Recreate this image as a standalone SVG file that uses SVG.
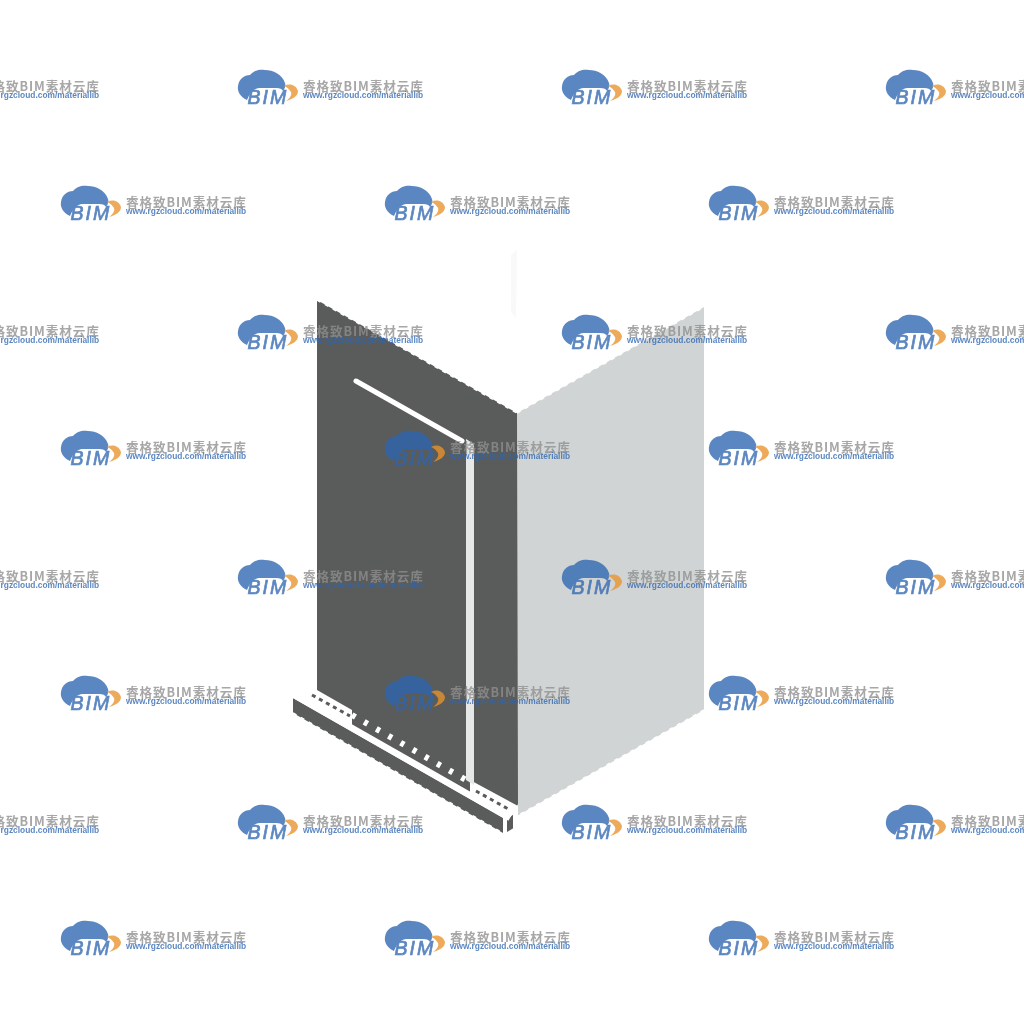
<svg xmlns="http://www.w3.org/2000/svg" width="1024" height="1024" viewBox="0 0 1024 1024">
<style>
.cn{font-family:"Noto Sans CJK SC","Liberation Sans",sans-serif;font-size:12.6px;font-weight:700;fill:#8f8f8f;letter-spacing:.9px}
.url{font-family:"Liberation Sans",sans-serif;font-size:8.4px;font-weight:700;fill:#2f66b0}
.bim{font-family:"Liberation Sans",sans-serif;font-size:19.5px;font-style:italic;font-weight:400;fill:#2f66b0;stroke:#2f66b0;stroke-width:.7;letter-spacing:2px}
</style>
<defs>
<filter id="b1" x="-5%" y="-5%" width="110%" height="110%"><feGaussianBlur stdDeviation="0.7"/></filter>
<filter id="b2" x="0" y="0" width="100%" height="100%"><feGaussianBlur stdDeviation="0.4"/></filter>
<g id="wm" opacity=".78">
<path fill="#2f66b0" d="M9 30C2 27 -1 21 0 16C1 9 6 5 12 5C16 0 22 -1 27 0C35 0 44 4 47 13C48 16 47 18 45 21C44 19 42 18 38 18L21 18C15 19 12 23 9 30Z"/>
<path fill="#e8932e" d="M46 16C52 13 58 15 60 21C60 26 55 29 48 31C52 28 54 25 53 22C51 19 49 17 46 16Z"/>
<text class="bim" x="9.5" y="34">BIM</text>
<text class="cn" x="65" y="20.5">睿格致BIM素材云库</text>
<text class="url" x="65" y="28.3">www.rgzcloud.com/materiallib</text>
</g>
</defs>
<rect width="1024" height="1024" fill="#fff"/>
<g id="building" filter="url(#b1)">
<path fill="#f9f9f9" d="M511 255L517 250L516 318L511 312Z"/>
<path fill="#d1d4d4" d="M517 413L704 307L704 710L517 816Z"/>
<path fill="#5a5c5b" d="M317 300L517 413L518 804L510 816L352 726L352 712L317 692Z"/>
<path fill="#5a5c5b" d="M293 698L503 818L503 833L293 713Z"/>
<path fill="#5a5c5b" d="M507 815L517 810L517 826L507 832Z"/>
<path fill="none" stroke="#fff" stroke-width="1.6" stroke-dasharray="4 5" d="M317 300L517 413M517 413L704 307M704 710L517 816M293 713L503 833"/>
<path fill="none" stroke="#fff" stroke-width="6.5" d="M294 695L510 818"/>
<path fill="none" stroke="#fff" stroke-width="6" stroke-dasharray="4 10" d="M352 715L466 780"/>
<path fill="#fff" d="M303 690L317 690L352 710L352 722L303 695Z"/>
<path fill="none" stroke="#5a5c5b" stroke-width="3" stroke-dasharray="4 4" d="M312 695L350 716"/>
<path fill="#fff" d="M470 780L518 806L518 811L510 817L470 794Z"/>
<path fill="none" stroke="#5a5c5b" stroke-width="3" stroke-dasharray="4 4" d="M476 791L510 810"/>
<path fill="#fff" d="M503 818L507 815L507 832L503 833Z"/>
<path fill="#fff" d="M515 808L518 810L518 826L513 829L513 812Z"/>
<path fill="none" stroke="#fff" stroke-width="5" stroke-linecap="round" d="M356 381L462 441"/>
<path fill="#e6e7e7" d="M466 439L474 444L474 785L466 780Z"/>
</g>
<g id="watermarks" filter="url(#b2)">
<use href="#wm" x="-86" y="70"/><use href="#wm" x="238" y="70"/><use href="#wm" x="562" y="70"/><use href="#wm" x="886" y="70"/>
<use href="#wm" x="61" y="186"/><use href="#wm" x="385" y="186"/><use href="#wm" x="709" y="186"/>
<use href="#wm" x="-86" y="315"/><use href="#wm" x="238" y="315"/><use href="#wm" x="562" y="315"/><use href="#wm" x="886" y="315"/>
<use href="#wm" x="61" y="431"/><use href="#wm" x="385" y="431"/><use href="#wm" x="709" y="431"/>
<use href="#wm" x="-86" y="560"/><use href="#wm" x="238" y="560"/><use href="#wm" x="562" y="560"/><use href="#wm" x="886" y="560"/>
<use href="#wm" x="61" y="676"/><use href="#wm" x="385" y="676"/><use href="#wm" x="709" y="676"/>
<use href="#wm" x="-86" y="805"/><use href="#wm" x="238" y="805"/><use href="#wm" x="562" y="805"/><use href="#wm" x="886" y="805"/>
<use href="#wm" x="61" y="921"/><use href="#wm" x="385" y="921"/><use href="#wm" x="709" y="921"/>
</g>
</svg>
